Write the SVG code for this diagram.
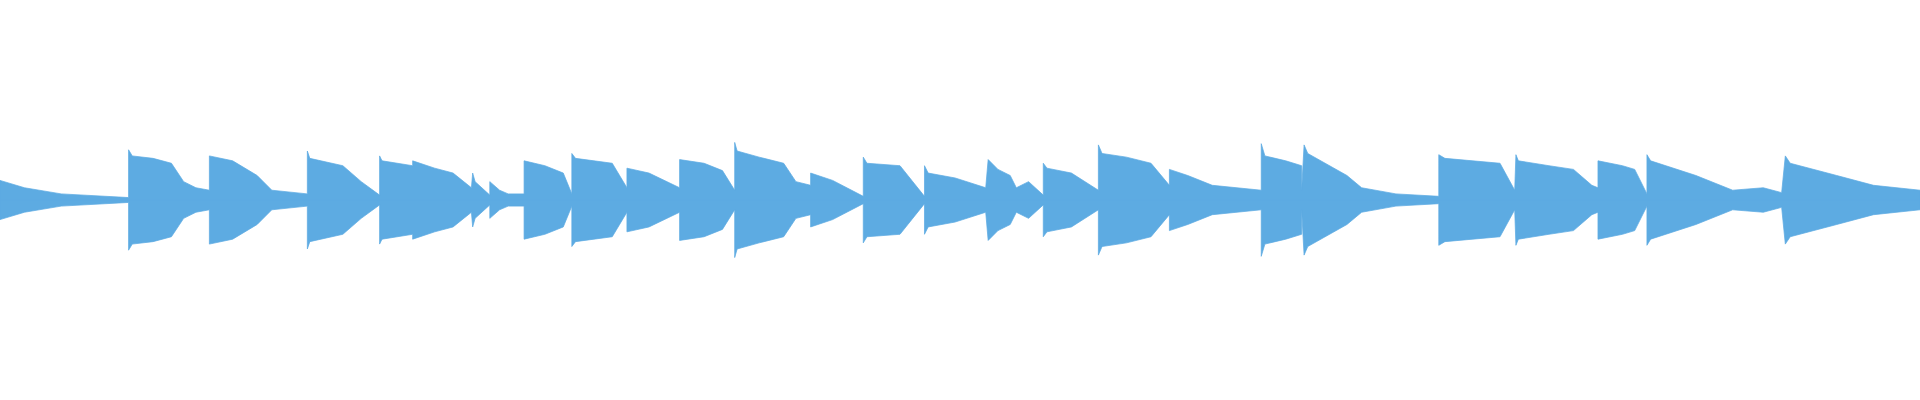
<svg xmlns="http://www.w3.org/2000/svg" width="1920" height="400" viewBox="0 0 1920 400"><defs><style>.w{fill:#5dabe2;stroke:#5dabe2;stroke-width:0.6}</style><path id="h" class="w" d="M0,0 L0,-16 L20,-10 L50,-5 L105,-2 L105,-41 L108,-36 L125,-34 L140,-30 L150,-15 L160,-10 L171,-8 L171,-36 L190,-32 L210,-20 L222,-8 L251,-5 L251,-40 L253,-34 L280,-28 L295,-15 L310,-4 L310,-36 L312,-32 L337,-28 L337,-32 L355,-26 L370,-22 L385,-10 L386,-22 L388,-15 L400,-4 L400,-15 L408,-8 L415,-5 L428,-5 L428,-32 L445,-28 L460,-22 L467,-5 L467,-38 L470,-34 L500,-30 L512,-10 L512,-26 L530,-22 L555,-10 L555,-33 L575,-30 L590,-24 L600,-8 L600,-47 L602,-40 L620,-35 L640,-30 L650,-15 L662,-12 L662,-22 L680,-16 L705,-3 L705,-35 L708,-30 L735,-28 L755,-3 L755,-28 L758,-22 L780,-18 L805,-10 L807,-33 L815,-25 L825,-20 L830,-10 L840,-15 L852,-4 L852,-30 L855,-26 L875,-22 L897,-8 L897,-45 L900,-38 L920,-35 L940,-30 L955,-12 L955,-25 L970,-20 L990,-12 L1030,-8 L1030,-46 L1033,-36 L1050,-32 L1063,-28 L1063,-8 L1065,-45 L1068,-38 L1100,-20 L1112,-10 L1140,-5 L1175,-3 L1175,-37 L1180,-34 L1225,-30 L1237,-8 L1238,-37 L1240,-32 L1265,-28 L1285,-25 L1300,-12 L1305,-10 L1305,-32 L1325,-28 L1335,-25 L1345,-5 L1345,-37 L1348,-32 L1385,-20 L1415,-8 L1440,-10 L1455,-6 L1458,-36 L1462,-30 L1500,-20 L1530,-12 L1568,-8 L1568,0 Z"/></defs><g id="waveform" transform="translate(0,200) scale(1.2245)"><use href="#h"/><use href="#h" transform="scale(1,-1)"/></g></svg>
